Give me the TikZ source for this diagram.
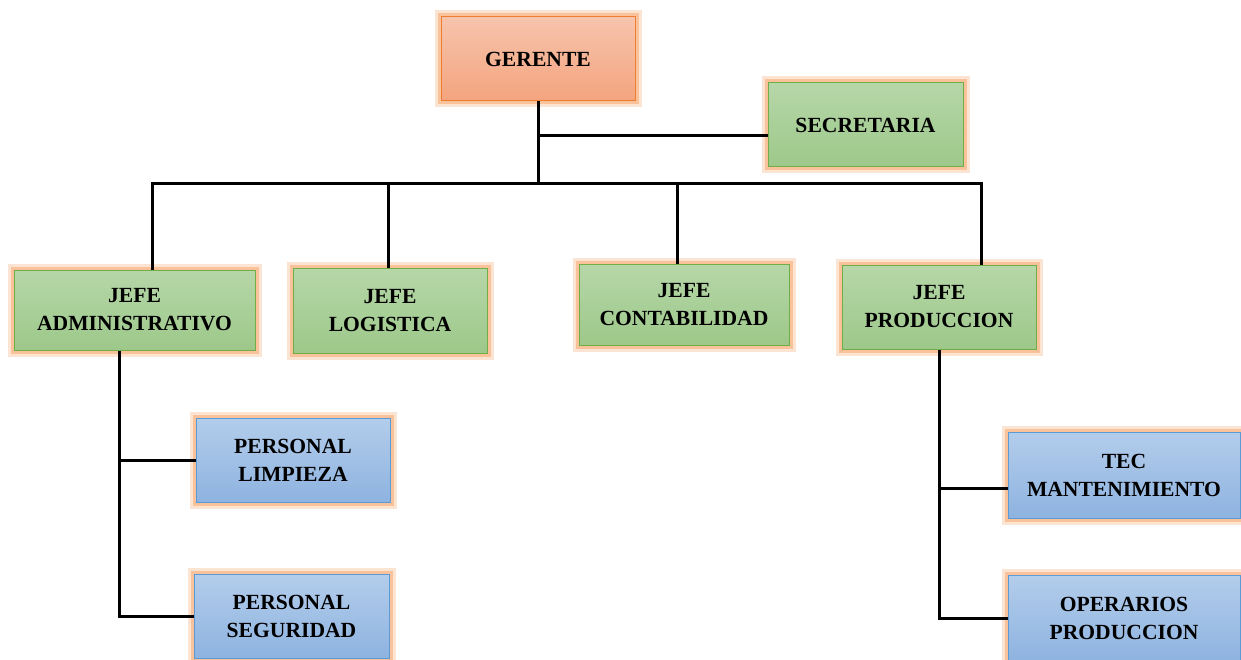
\documentclass[tikz,border=0pt]{standalone}
\usepackage{fontspec}
\setmainfont{Liberation Serif}
\definecolor{orgline}{HTML}{ED7D31}
\definecolor{orgtop}{HTML}{F6C4AC}
\definecolor{orgbot}{HTML}{F4A47E}
\definecolor{grnline}{HTML}{70AD47}
\definecolor{grntop}{HTML}{B6D7A8}
\definecolor{grnbot}{HTML}{9DC88A}
\definecolor{blueline}{HTML}{5B9BD5}
\definecolor{bluetop}{HTML}{B3CDEB}
\definecolor{bluebot}{HTML}{8EB3E0}
\definecolor{glow}{HTML}{F9C29A}
\tikzset{
  box/.style={line width=1pt, minimum width=194pt, minimum height=84pt,
    align=center, text=black,
    font=\fontsize{21.6}{28}\selectfont\bfseries,
    preaction={draw=glow!45, line width=13pt},
    preaction={draw=glow, line width=7pt}},
  gerbox/.style={box, draw=orgline, top color=orgtop, bottom color=orgbot},
  jefebox/.style={box, draw=grnline, top color=grntop, bottom color=grnbot},
  persbox/.style={box, draw=blueline, top color=bluetop, bottom color=bluebot},
  link/.style={line width=3pt, black}
}
\begin{document}
\begin{tikzpicture}[x=1pt,y=-1pt]
\useasboundingbox (0,0) rectangle (1241,660);
% boxes
\node[gerbox] (ger) at (538,59) {GERENTE};
\node[jefebox, minimum width=195pt] (sec) at (865.5,125) {SECRETARIA};
\node[jefebox, minimum width=241pt, minimum height=80pt] (adm) at (134.5,310) {JEFE\\ADMINISTRATIVO};
\node[jefebox, minimum height=85pt] (log) at (390,310.5) {JEFE\\LOGISTICA};
\node[jefebox, minimum width=210pt, minimum height=81pt] (con) at (684,304.5) {JEFE\\CONTABILIDAD};
\node[jefebox] (pro) at (939,307) {JEFE\\PRODUCCION};
\node[persbox] (lim) at (293,460) {PERSONAL\\LIMPIEZA};
\node[persbox, minimum width=195pt] (seg) at (291.5,616) {PERSONAL\\SEGURIDAD};
\node[persbox, minimum width=232pt, minimum height=86pt] (tec) at (1124,475) {TEC\\MANTENIMIENTO};
\node[persbox, minimum width=232pt, minimum height=86pt] (ope) at (1124,618) {OPERARIOS\\PRODUCCION};
% bus
\coordinate (bl) at (152,184);
\coordinate (br) at (981,184);
\coordinate (dlog) at (388,184);
\coordinate (dcon) at (677,184);
\draw[link] (ger.south) -- (ger.south |- bl);
\draw[link] (ger.south |- sec.west) ++(0,11) -- ([yshift=-11pt]sec.west);
\draw[link] ([xshift=-1.5pt]bl) -- ([xshift=1.5pt]br);
\draw[link] (bl) -- (bl |- adm.north);
\draw[link] (dlog) -- (dlog |- log.north);
\draw[link] (dcon) -- (dcon |- con.north);
\draw[link] (br) -- (br |- pro.north);
% branches
\coordinate (tadm) at (119,350);
\draw[link] (tadm |- adm.south) |- (seg.west);
\draw[link] (tadm |- lim.west) -- (lim.west);
\draw[link] (pro.south) |- (ope.west);
\draw[link] ([yshift=-13pt]pro.south |- tec.west) -- ([yshift=-13pt]tec.west);
\end{tikzpicture}
\end{document}
